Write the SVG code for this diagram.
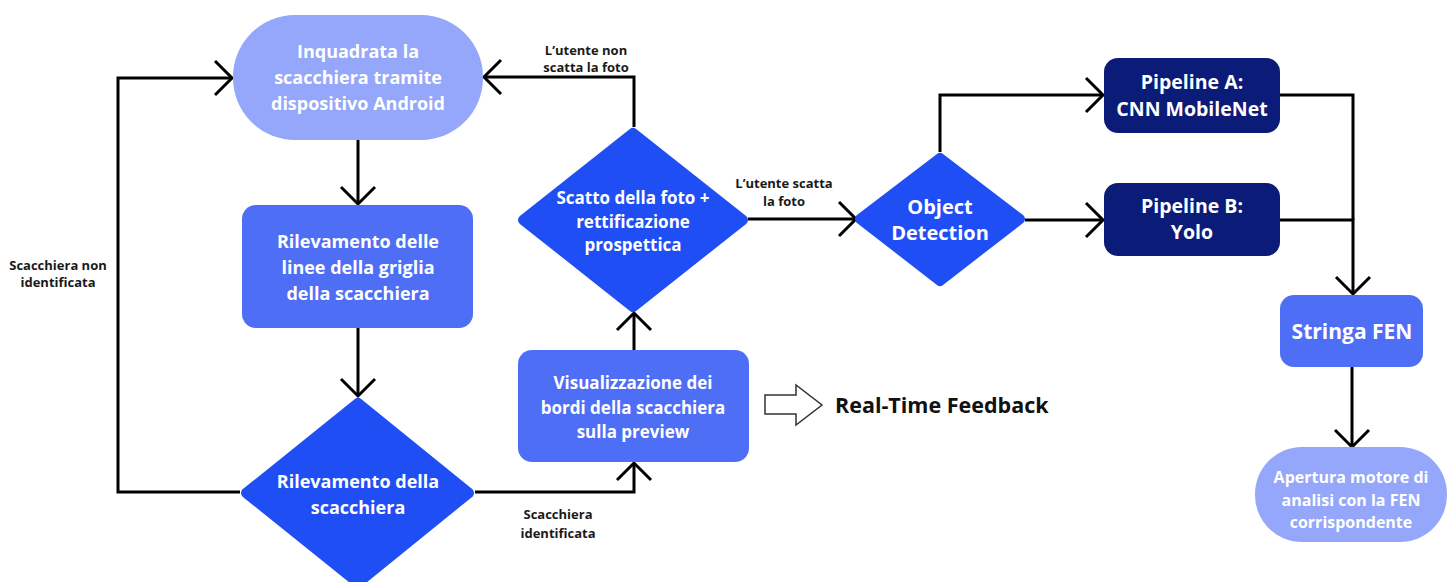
<svg xmlns="http://www.w3.org/2000/svg" width="1453" height="582" viewBox="0 0 1453 582">
<style>
.nt{font-family:"Open Sans","Noto Sans","Liberation Sans",sans-serif;font-weight:700;fill:#fff;text-anchor:middle;font-size:18px}
.lb{font-family:"Open Sans","Noto Sans","Liberation Sans",sans-serif;font-weight:700;fill:#1a1a1a;text-anchor:middle;font-size:13px}
.ln{fill:none;stroke:#000;stroke-width:3;marker-end:url(#chev)}
.ln2{fill:none;stroke:#000;stroke-width:3}
.light{fill:#94a7fa}
.mid{fill:#4f6ef6}
.dia{fill:#1f4ff4;stroke:#1f4ff4;stroke-width:10;stroke-linejoin:round}
.navy{fill:#0b1c78}
</style>
<defs>
<marker id="chev" markerUnits="userSpaceOnUse" markerWidth="40" markerHeight="40" viewBox="-20 -20 40 40" refX="0" refY="0" orient="auto" overflow="visible">
<path d="M-17,-17 L0,0 L-17,17" fill="none" stroke="#000" stroke-width="3"/>
</marker>
</defs>
<rect width="1453" height="582" fill="#fff"/>

<g id="connectors">
<path class="ln" d="M358,140 V204"/>
<path class="ln" d="M358,328 V396"/>
<path class="ln" d="M240,492 H118 V78 H232"/>
<path class="ln" d="M475,492 H634 V463"/>
<path class="ln" d="M634,350 V313"/>
<path class="ln" d="M634,127 V77 H484"/>
<path class="ln" d="M748,219 H856"/>
<path class="ln" d="M940,152 V95 H1103"/>
<path class="ln" d="M1025,220 H1103"/>
<path class="ln2" d="M1280,95 H1353 V220"/>
<path class="ln" d="M1280,220 H1353 V294"/>
<path class="ln" d="M1352,367 V447"/>
<text class="lb" x="58" y="270">Scacchiera non</text>
<text class="lb" x="58" y="287">identificata</text>
<text class="lb" x="558" y="519">Scacchiera</text>
<text class="lb" x="558" y="538">identificata</text>
<text class="lb" x="586" y="55">L’utente non</text>
<text class="lb" x="586" y="72">scatta la foto</text>
<text class="lb" x="784" y="188">L’utente scatta</text>
<text class="lb" x="784" y="206">la foto</text>
</g>

<g id="n-inquadrata">
<rect class="light" x="233" y="15" width="250" height="125" rx="62" ry="62"/>
<text class="nt" x="358" y="58">Inquadrata la</text>
<text class="nt" x="358" y="84">scacchiera tramite</text>
<text class="nt" x="358" y="110">dispositivo Android</text>
</g>

<g id="n-linee">
<rect class="mid" x="242" y="205" width="231" height="123" rx="14" ry="14"/>
<text class="nt" x="358" y="248">Rilevamento delle</text>
<text class="nt" x="358" y="274">linee della griglia</text>
<text class="nt" x="358" y="300">della scacchiera</text>
</g>

<g id="n-rilevamento">
<polygon class="dia" points="358,403 469,493 358,583 246,493"/>
<text class="nt" x="358" y="488">Rilevamento della</text>
<text class="nt" x="358" y="514">scacchiera</text>
</g>

<g id="n-visualizzazione">
<rect class="mid" x="518" y="350" width="231" height="112" rx="14" ry="14"/>
<text class="nt" x="633" y="389" style="font-size:17px">Visualizzazione dei</text>
<text class="nt" x="633" y="414" style="font-size:17px">bordi della scacchiera</text>
<text class="nt" x="633" y="438" style="font-size:17px">sulla preview</text>
</g>

<g id="n-feedback">
<polygon points="765,395 796,395 796,385 822,405 796,425 796,414 765,414" fill="#fff" stroke="#333" stroke-width="1.5" stroke-linejoin="miter"/>
<text x="835" y="413" font-family="Open Sans, Noto Sans, Liberation Sans, sans-serif" font-weight="700" font-size="21.5" fill="#111">Real-Time Feedback</text>
</g>

<g id="n-scatto">
<polygon class="dia" points="633,133 743,220 633,307 523,220"/>
<text class="nt" x="633" y="204" style="font-size:17px">Scatto della foto +</text>
<text class="nt" x="633" y="228" style="font-size:17px">rettificazione</text>
<text class="nt" x="633" y="251" style="font-size:17px">prospettica</text>
</g>

<g id="n-object">
<polygon class="dia" points="940,158 1020,219 940,281 860,219"/>
<text class="nt" x="940" y="214" style="font-size:20px">Object</text>
<text class="nt" x="940" y="240" style="font-size:20px">Detection</text>
</g>

<g id="n-pipeA">
<rect class="navy" x="1104" y="58" width="176" height="75" rx="14" ry="14"/>
<text class="nt" x="1192" y="89" style="font-size:19.5px">Pipeline A:</text>
<text class="nt" x="1192" y="116" style="font-size:19.5px">CNN MobileNet</text>
</g>

<g id="n-pipeB">
<rect class="navy" x="1104" y="183" width="176" height="73" rx="14" ry="14"/>
<text class="nt" x="1192" y="213" style="font-size:19.5px">Pipeline B:</text>
<text class="nt" x="1192" y="239" style="font-size:19.5px">Yolo</text>
</g>

<g id="n-fen">
<rect class="mid" x="1280" y="295" width="143" height="72" rx="14" ry="14"/>
<text class="nt" x="1352" y="339" style="font-size:21px">Stringa FEN</text>
</g>

<g id="n-apertura">
<rect class="light" x="1255" y="447" width="192" height="95" rx="47" ry="47"/>
<text class="nt" x="1351" y="483" style="font-size:16px">Apertura motore di</text>
<text class="nt" x="1351" y="506" style="font-size:16px">analisi con la FEN</text>
<text class="nt" x="1351" y="528" style="font-size:16px">corrispondente</text>
</g>
</svg>
